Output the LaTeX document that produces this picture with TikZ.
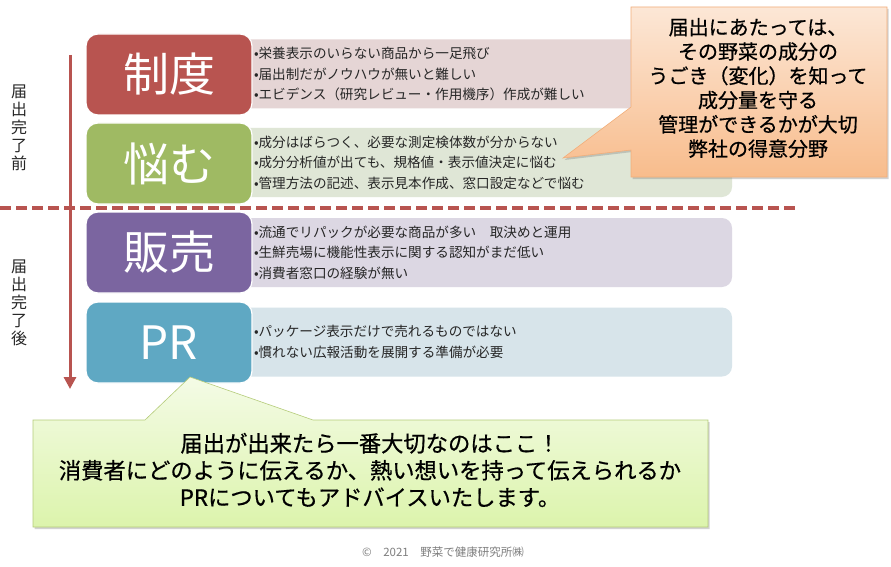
\documentclass[tikz,border=0pt]{standalone}
\usepackage{fontspec}
\setmainfont{Noto Sans CJK JP}
\newfontfamily\calloutfont{Noto Sans CJK JP}[FakeBold=0.6]
\usepackage{tikz}
\usetikzlibrary{arrows.meta, positioning, shadows}
\definecolor{seido}{HTML}{B85450}
\definecolor{nayamu}{HTML}{9FBA63}
\definecolor{hanbai}{HTML}{7B65A0}
\definecolor{prblue}{HTML}{5FA8C3}
\definecolor{seidolt}{HTML}{E5D5D5}
\definecolor{nayamult}{HTML}{DFE6D6}
\definecolor{hanbailt}{HTML}{DCD7E3}
\definecolor{prbluelt}{HTML}{D7E4EA}
\definecolor{inktext}{HTML}{262626}
\definecolor{orangeedge}{HTML}{F2AE7A}
\definecolor{orangetop}{HTML}{FCE7D6}
\definecolor{orangebot}{HTML}{F8BC8C}
\definecolor{greenedge}{HTML}{B5CC7A}
\definecolor{greentop}{HTML}{F4FBE6}
\definecolor{greenbot}{HTML}{DCF4AC}
\definecolor{copygrey}{HTML}{7F7F7F}
\tikzset{every node/.style={text=inktext}}

\begin{document}
\begin{tikzpicture}[x=1pt, y=-1pt,
  headbox/.style={draw=white, line width=1.2pt, rounded corners=12pt, minimum width=166pt, minimum height=81pt, text=white, font=\fontsize{46}{46}\selectfont},
  notebox/.style={rounded corners=10pt, minimum width=492pt, minimum height=69pt, text width=464pt, inner xsep=14pt, align=left, font=\fontsize{13.6}{20.5}\selectfont},
  sidelabel/.style={align=center, inner sep=0pt, font=\fontsize{16}{18}\selectfont},
  cutline/.style={seido, line width=3.5pt, dash pattern=on 11pt off 5pt},
  arrowline/.style={seido, line width=3pt, -{Triangle[width=12pt, length=12pt]}},
  softshadow/.style={drop shadow={opacity=0.35, shadow xshift=1.5pt, shadow yshift=-2pt}}]
  \useasboundingbox[fill=white] (0,0) rectangle (891,567);

  % right-hand notes first, the coloured heads sit on top of them
  \node[notebox, fill=seidolt] (note1) at (486,74) {•栄養表示のいらない商品から一足飛び\\•届出制だがノウハウが無いと難しい\\•エビデンス（研究レビュー・作用機序）作成が難しい};
  \node[notebox, fill=nayamult] (note2) at (486,162.5) {•成分はばらつく、必要な測定検体数が分からない\\•成分分析値が出ても、規格値・表示値決定に悩む\\•管理方法の記述、表示見本作成、窓口設定などで悩む};
  \node[notebox, fill=hanbailt] (note3) at (486,252.5) {•流通でリパックが必要な商品が多い　取決めと運用\\•生鮮売場に機能性表示に関する認知がまだ低い\\•消費者窓口の経験が無い};
  \node[notebox, fill=prbluelt] (note4) at (486,342) {•パッケージ表示だけで売れるものではない\\•慣れない広報活動を展開する準備が必要};

  \node[headbox, fill=seido] (seido) at (169,74.5) {制度};
  \node[headbox, fill=nayamu] (nayamu) at (169,163.5) {悩む};
  \node[headbox, fill=hanbai] (hanbai) at (169,252.5) {販売};
  \node[headbox, fill=prblue] (pr) at (169,342.5) {PR};

  % before / after line and time arrow
  \coordinate (cutL) at (0,208);
  \coordinate (cutR) at (795,208);
  \draw[cutline] (cutL) -- (cutR);
  \coordinate (arrtop) at (70,55);
  \coordinate (arrbot) at (70,389);
  \draw[arrowline] (arrtop) -- (arrbot);

  \node[sidelabel] (before) at (19,128) {届\\出\\完\\了\\前};
  \node[sidelabel] (after) at (19,303) {届\\出\\完\\了\\後};

  % orange callout
  \coordinate (tipO) at (563,158);
  \path[softshadow, draw=orangeedge, line width=0.6pt, top color=orangetop, bottom color=orangebot]
    (631,7) -- (887,7) -- (887,177) -- (631,177) -- (631,150) -- (tipO) -- (631,107) -- cycle;
  \node[align=center, text=black, font=\calloutfont\fontsize{20}{24.3}\selectfont] (hint) at (758,88)
    {届出にあたっては、\\その野菜の成分の\\うごき（変化）を知って\\成分量を守る\\管理ができるかが大切\\弊社の得意分野};

  % green callout
  \coordinate (tipG) at (190,377);
  \path[softshadow, draw=greenedge, line width=0.6pt, top color=greentop, bottom color=greenbot]
    (33,420) -- (145,420) -- (tipG) -- (313,420) -- (708,420) -- (708,527) -- (33,527) -- cycle;
  \node[align=center, text=black, font=\calloutfont\fontsize{22.3}{27}\selectfont] (advice) at (370,470)
    {届出が出来たら一番大切なのはここ！\\消費者にどのように伝えるか、熱い想いを持って伝えられるか\\PRについてもアドバイスいたします。};

  \node[text=copygrey, font=\fontsize{11.5}{12}\selectfont] (copy) at (443,552) {©　2021　野菜で健康研究所㈱};
\end{tikzpicture}
\end{document}
